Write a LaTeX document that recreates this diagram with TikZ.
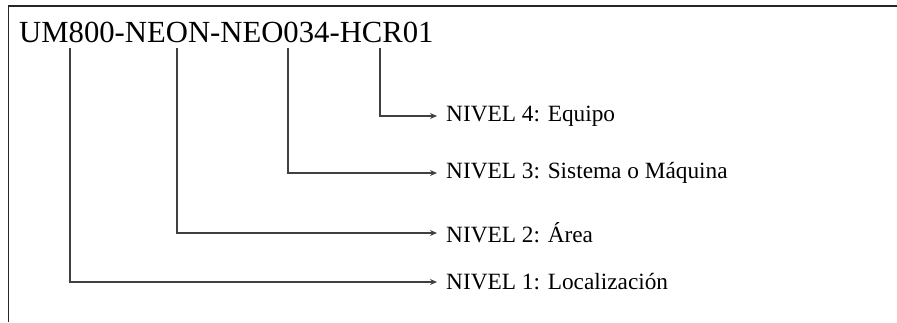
\documentclass[tikz,border=0pt]{standalone}
\usepackage{fontspec}
\setmainfont{Liberation Serif}
\usetikzlibrary{arrows.meta, positioning}

\begin{document}
\begin{tikzpicture}[x=1pt, y=-1pt, >={Stealth[length=7pt, width=6pt]},
  level/.style={anchor=west, inner sep=0pt, font=\fontsize{23.3}{26}\selectfont},
  link/.style={->, line width=1.3pt, black!75}]
  \useasboundingbox (0,0) rectangle (897,322);

  % Frame (top and left only)
  \draw[line width=1.8pt, black!85] (897,6) -- (8.5,6) -- (8.5,322);

  % Code
  \node[anchor=base west, inner sep=0pt, font=\fontsize{30.7}{36}\selectfont]
    (code) at (19,42) {UM800-NEON-NEO034-HCR01};

  % Tap points under the code
  \coordinate (t1) at (70,48);
  \coordinate (t2) at (177,48);
  \coordinate (t3) at (288,48);
  \coordinate (t4) at (380,48);

  % Levels
  \node[level] (n4) at (446,116) {NIVEL 4: Equipo};
  \node[level] (n3) at (446,173) {NIVEL 3: Sistema o Máquina};
  \node[level] (n2) at (446,233) {NIVEL 2: Área};
  \node[level] (n1) at (446,282) {NIVEL 1: Localización};

  % Connectors
  \foreach \i in {1,...,4}
    \draw[link] (t\i) |- ([xshift=-9pt]n\i.west);
\end{tikzpicture}
\end{document}
